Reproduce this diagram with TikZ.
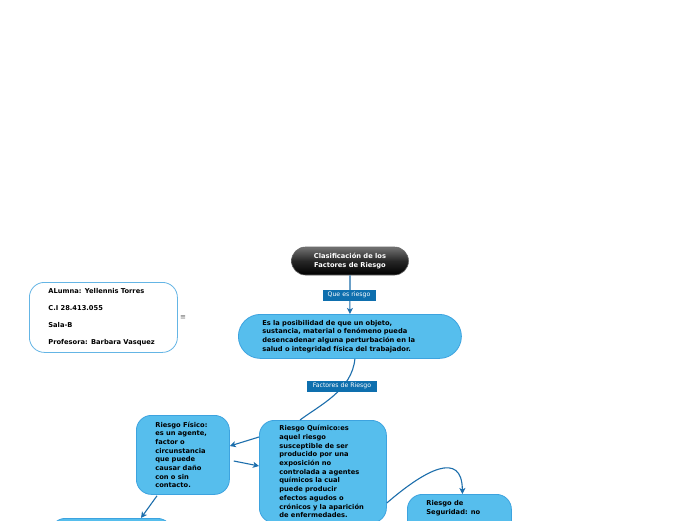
\documentclass[tikz,border=0pt]{standalone}
\usepackage{fontspec}
\setmainfont{DejaVu Sans}
\usetikzlibrary{arrows.meta,calc}
\definecolor{bubblue}{HTML}{56BEED}
\definecolor{bordblue}{HTML}{3DA3DF}
\definecolor{labblue}{HTML}{0E6FAE}
\definecolor{linkblue}{HTML}{1C6EAC}
\begin{document}
\begin{tikzpicture}[x=1pt,y=-1pt,
  every node/.style={font=\fontsize{6.7}{8.7}\selectfont\bfseries},
  conn/.style={draw=linkblue, line width=1.1pt},
  arr/.style={conn, -{Stealth[length=6pt,width=6pt,inset=1.5pt]}},
  bub/.style={draw=bordblue, fill=bubblue, line width=0.8pt, rounded corners=15pt, align=left, anchor=north west},
  lab/.style={fill=labblue, text=white, font=\fontsize{6.2}{7}\selectfont, inner sep=0pt, minimum height=11pt},
  titlebox/.style={draw=black!60, line width=0.6pt, top color=black!55, bottom color=black, middle color=black!85, rounded corners=14pt, minimum width=117pt, minimum height=28pt, text=white, align=center, inner sep=0pt},
]
\useasboundingbox (0,0) rectangle (696,520);
\fill[white] (0,0) rectangle (696,520);
\clip (0,0) rectangle (696,520);

\node[titlebox] (t) at (350,261) {Clasificación de los\\Factores de Riesgo};

\node[bub, rounded corners=22pt, minimum height=44pt, text width=175pt, inner xsep=24pt] (d) at (238,314)
  {Es la posibilidad de que un objeto,\\sustancia, material o fenómeno pueda\\desencadenar alguna perturbación en la\\salud o integridad física del trabajador.};

\node[bub, draw=bordblue!80, fill=white, minimum height=70pt, text width=110pt, inner xsep=19pt] (a) at (29,282)
  {ALumna: Yellennis Torres\\[8.3pt]C.I 28.413.055\\[8.3pt]Sala-B\\[8.3pt]Profesora: Barbara Vasquez};
\node[font=\fontsize{7}{8}\selectfont, text=black!60] (m) at (183,318) {≡};

\node[bub, minimum height=79pt, text width=55pt, inner xsep=19pt] (f) at (136,415)
  {Riesgo Físico:\\es un agente,\\factor o\\circunstancia\\que puede\\causar daño\\con o sin\\contacto.};

\node[bub, text width=87pt, inner xsep=20pt, inner ysep=5pt] (q) at (259,420)
  {Riesgo Químico:es\\aquel riesgo\\susceptible de ser\\producido por una\\exposición no\\controlada a agentes\\químicos la cual\\puede producir\\efectos agudos o\\crónicos y la aparición\\de enfermedades.};

\node[bub, inner xsep=19pt, inner ysep=6pt] (s) at (407,494)
  {\parbox[t][40pt][t]{66pt}{Riesgo de\\Seguridad: no}};

\node[bub, minimum width=122pt, minimum height=30pt] (b) at (50,518) {};

% connectors
\draw[arr] (t.south) -- (d.north);
\draw[conn] ($(d.south)+(5,0)$) .. controls (352,390) and (320,405) .. ($(q.north west)+(41,0)$);
\draw[arr] ($(q.north west)+(0,17)$) -- ($(f.north east)+(0,31)$);
\draw[arr] ($(f.north east)+(4,46)$) -- ($(q.north west)+(0,46)$);
\draw[arr] ($(f.south west)+(21,1)$) -- ($(b.north west)+(91,0)$);
\draw[arr] ($(q.north east)+(0,83)$) .. controls (425,470) and (462,450) .. ($(s.north)+(3,0)$);

% labels
\node[lab, minimum width=53pt] (l1) at (349,295) {Que es riesgo};
\node[lab, minimum width=70pt] (l2) at (342,386) {Factores de Riesgo};
\end{tikzpicture}
\end{document}
